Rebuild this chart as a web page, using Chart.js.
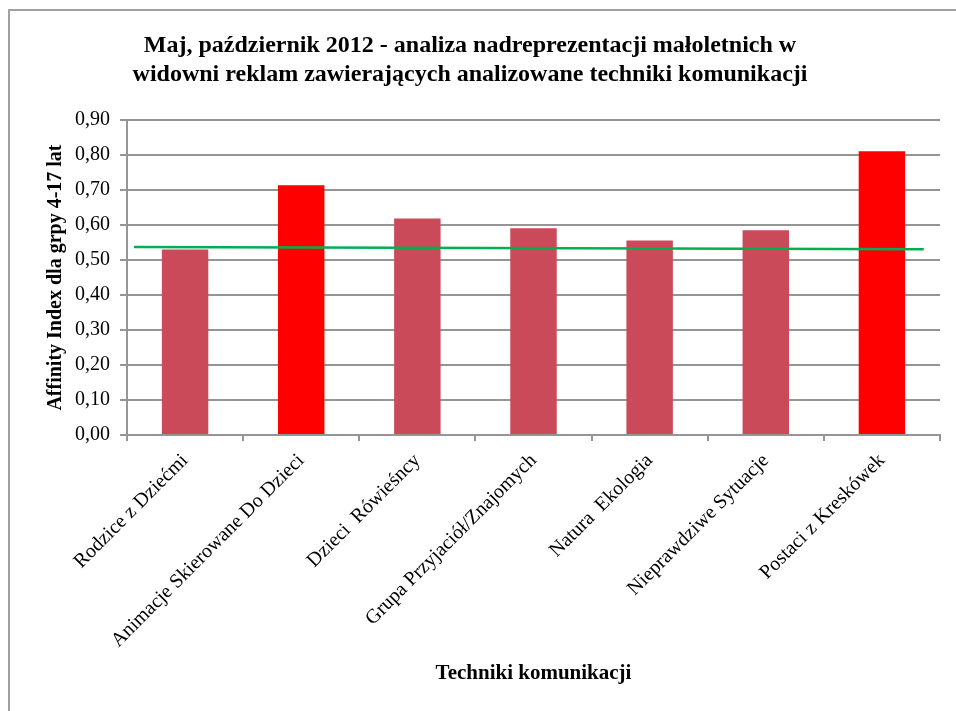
<!DOCTYPE html>
<html lang="pl">
<head>
<meta charset="utf-8">
<title>Affinity Index</title>
<script src="https://cdn.jsdelivr.net/npm/chart.js@4.4.1/dist/chart.umd.min.js"></script>
<style>
  html, body { margin: 0; padding: 0; background: #fff; }
  #wrap { position: relative; width: 956px; height: 711px; }
</style>
</head>
<body>
<div id="wrap"><canvas id="affinityChart" width="956" height="711"></canvas></div>
<script>
// Data
const categories = [
  "Rodzice z Dziećmi",
  "Animacje Skierowane Do Dzieci",
  "Dzieci  Rówieśncy",
  "Grupa Przyjaciół/Znajomych",
  "Natura  Ekologia",
  "Nieprawdziwe Sytuacje",
  "Postaci z Kreskówek",
];
const affinityValues = [0.53, 0.714, 0.619, 0.591, 0.556, 0.585, 0.811];
// green trend line: two end points (x in category units)
const trendX = [-0.44, 6.36];
const trendY = [0.537, 0.531];
const yTicks = [0, 0.1, 0.2, 0.3, 0.4, 0.5, 0.6, 0.7, 0.8, 0.9];

const titleLines = [
  "Maj, październik 2012 - analiza nadreprezentacji małoletnich w",
  "widowni reklam zawierających analizowane techniki komunikacji",
];
const yTitle = "Affinity Index dla grpy 4-17 lat";
const xTitle = "Techniki komunikacji";

// styles
const barColors = ["#CB4A5A", "#FF0000", "#CB4A5A", "#CB4A5A", "#CB4A5A", "#CB4A5A", "#FF0000"];
const serif = "'Liberation Serif', 'Times New Roman', serif";
const gridGray = "#959595";

// Frame: grey line on top and left edge only
const framePlugin = {
  id: "frame",
  beforeDraw(chart) {
    const ctx = chart.ctx;
    ctx.save();
    ctx.fillStyle = "#fff";
    ctx.fillRect(0, 0, chart.width, chart.height);
    ctx.strokeStyle = "#a0a0a0";
    ctx.lineWidth = 2;
    ctx.beginPath();
    ctx.moveTo(9, chart.height);
    ctx.lineTo(9, 10);
    ctx.lineTo(chart.width, 10);
    ctx.stroke();
    ctx.restore();
  },
};

const ctx = document.getElementById("affinityChart").getContext("2d");
new Chart(ctx, {
  type: "bar",
  data: {
    labels: categories,
    datasets: [
      {
        type: "line",
        data: trendX.map((x, i) => ({ x: x, y: trendY[i] })),
        xAxisID: "x2",
        borderColor: "#00B050",
        borderWidth: 2.5,
        pointRadius: 0,
        fill: false,
        order: 0,
      },
      {
        type: "bar",
        data: affinityValues,
        backgroundColor: barColors,
        grouped: false,
        barPercentage: 1,
        categoryPercentage: 0.4,
        order: 1,
      },
    ],
  },
  options: {
    responsive: false,
    animation: false,
    layout: { padding: { left: 0, right: 16, top: 0, bottom: 0 } },
    plugins: {
      legend: { display: false },
      tooltip: { enabled: false },
      title: {
        display: true,
        text: titleLines,
        color: "#000",
        font: { family: serif, size: 24, weight: "bold", lineHeight: 1.21 },
        padding: { top: 31, bottom: 31 },
      },
    },
    scales: {
      x: {
        type: "category",
        offset: true,
        afterFit: (scale) => { scale.height = 276; },
        grid: {
          offset: true,
          drawOnChartArea: false,
          drawTicks: true,
          tickLength: 6,
          color: gridGray,
          lineWidth: 2,
        },
        border: { color: gridGray, width: 2 },
        ticks: {
          autoSkip: false,
          minRotation: 45,
          maxRotation: 45,
          padding: 8,
          color: "#000",
          font: { family: serif, size: 20 },
        },
        title: {
          display: true,
          text: xTitle,
          color: "#000",
          font: { family: serif, size: 21, weight: "bold" },
          padding: { top: 0, bottom: 25 },
        },
      },
      x2: {
        type: "linear",
        display: false,
        min: -0.5,
        max: 6.5,
        offset: false,
      },
      y: {
        min: 0,
        max: 0.9,
        afterFit: (scale) => { scale.width = 127; },
        afterBuildTicks: (scale) => {
          scale.ticks = yTicks.map((v) => ({ value: v }));
        },
        grid: {
          color: gridGray,
          lineWidth: 2,
          drawTicks: true,
          tickLength: 7,
        },
        border: { color: gridGray, width: 2 },
        ticks: {
          padding: 10,
          color: "#000",
          font: { family: serif, size: 20 },
          callback: (value) => Number(value).toFixed(2).replace(".", ","),
        },
        title: {
          display: true,
          text: yTitle,
          color: "#000",
          font: { family: serif, size: 20, weight: "bold" },
          padding: { top: 44, bottom: 0 },
        },
      },
    },
  },
  plugins: [framePlugin],
});
</script>
</body>
</html>
